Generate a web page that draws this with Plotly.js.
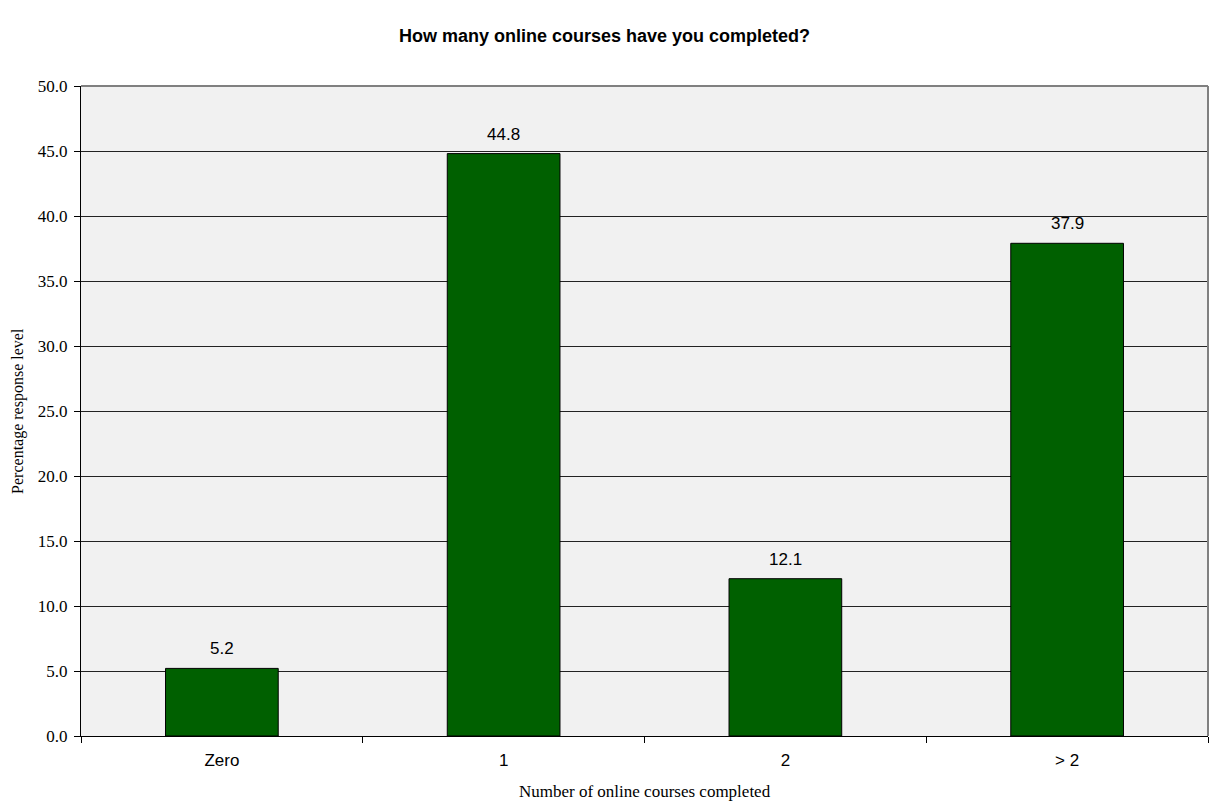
<!DOCTYPE html>
<html>
<head>
<meta charset="utf-8">
<script src="https://cdn.plot.ly/plotly-3.0.1.min.js"></script>
<style>html,body{margin:0;padding:0;background:#fff;}#chart{width:1209px;height:804px;}</style>
</head>
<body>
<div id="chart"></div>
<script>
const categories = ["Zero", "1", "2", "> 2"];
const values = [5.2, 44.8, 12.1, 37.9];
const labels = ["5.2", "44.8", "12.1", "37.9"];
const titleText = "How many online courses have you completed?";
const xTitleText = "Number of online courses completed";
const yTitleText = "Percentage response level";

const trace = {
  type: "bar",
  x: categories,
  y: values,
  marker: { color: "#006000", line: { color: "#000000", width: 1 } },
  hoverinfo: "skip"
};

const serif = "Times New Roman, Liberation Serif, serif";
const sans = "Arial, Liberation Sans, sans-serif";

const annotations = categories.map((c, i) => ({
  x: c, y: values[i], xref: "x", yref: "y",
  text: labels[i], showarrow: false, yanchor: "bottom", yshift: 8,
  font: { family: sans, size: 17, color: "#000" }
}));
annotations.push({
  xref: "paper", yref: "paper", x: 0.5, y: -0.085, xanchor: "center", yanchor: "middle",
  text: xTitleText, showarrow: false,
  font: { family: serif, size: 17, color: "#000" }
});
annotations.push({
  xref: "paper", yref: "paper", x: -0.056, y: 0.5, xanchor: "center", yanchor: "middle",
  text: yTitleText, showarrow: false, textangle: -90,
  font: { family: serif, size: 16, color: "#000" }
});

const layout = {
  width: 1209, height: 804,
  margin: { l: 81, r: 1, t: 86, b: 68 },
  paper_bgcolor: "#ffffff",
  plot_bgcolor: "#f1f1f1",
  bargap: 0.6,
  showlegend: false,
  title: {
    text: "<b>" + titleText + "</b>",
    x: 0.5, xanchor: "center", y: 0.956, yanchor: "middle",
    font: { family: sans, size: 18, color: "#000" }
  },
  xaxis: {
    type: "category",
    tickson: "boundaries",
    ticks: "outside", ticklen: 6, tickcolor: "#000",
    showline: true, linecolor: "#000", linewidth: 1,
    showgrid: false,
    ticklabelstandoff: 9,
    tickfont: { family: sans, size: 17, color: "#000" }
  },
  yaxis: {
    range: [0, 50], dtick: 5, tick0: 0, tickformat: ".1f",
    ticks: "outside", ticklen: 6, tickcolor: "#000",
    showline: true, linecolor: "#000", linewidth: 1,
    showgrid: true, gridcolor: "#222", gridwidth: 1,
    zeroline: false,
    ticklabelstandoff: 3,
    tickfont: { family: serif, size: 17, color: "#000" }
  },
  annotations: annotations,
  shapes: [
    { type: "line", xref: "paper", yref: "paper", x0: 0, x1: 1, y0: 1, y1: 1, line: { color: "#808080", width: 2 } },
    { type: "line", xref: "paper", yref: "paper", x0: 1, x1: 1, y0: 0, y1: 1, line: { color: "#808080", width: 2 } }
  ]
};

Plotly.newPlot("chart", [trace], layout, { displayModeBar: false, staticPlot: true });
</script>
</body>
</html>
